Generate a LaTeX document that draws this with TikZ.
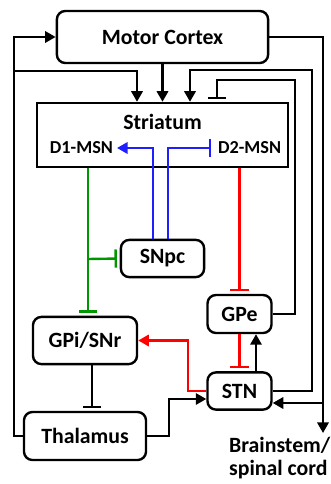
\documentclass[tikz,border=0pt]{standalone}
\usepackage{fontspec}
\setmainfont{Carlito}
\usetikzlibrary{arrows.meta}

\definecolor{dgreen}{RGB}{0,150,0}
\definecolor{dblue}{RGB}{30,30,255}
\definecolor{dred}{RGB}{255,0,0}

\begin{document}
\begin{tikzpicture}[x=0.025cm, y=-0.025cm, line width=1.7pt,
    area/.style={draw, rounded corners=6pt, font=\fontsize{15.5}{17}\selectfont\bfseries, inner sep=0pt},
    label/.style={font=\fontsize{13}{15}\selectfont\bfseries, inner sep=2pt},
    exc/.style={-{Triangle[length=7.5pt, width=8pt]}},
    inh/.style={-{Bar[width=13pt]}, shorten >=2pt},
    path/.style={line width=1.7pt}]
\useasboundingbox (0,0) rectangle (330,484);
%nuclei
\node[area, minimum width=5.28cm, minimum height=1.3cm] (mc) at (162.5,37) {Motor Cortex};
\node[area, rounded corners=0pt, minimum width=6.28cm, minimum height=1.6cm] (str) at (162.5,135) {};
\node[font=\fontsize{15.5}{17}\selectfont\bfseries] (strlbl) at (162.5,122) {Striatum};
\node[label, anchor=east] (d1) at (117,148) {D1-MSN};
\node[label, anchor=west] (d2) at (214,148) {D2-MSN};
\node[area, minimum width=2.08cm, minimum height=0.93cm] (snpc) at (162.5,258.5) {SNpc};
\node[area, minimum width=1.6cm, minimum height=0.95cm] (gpe) at (239.5,314) {GPe};
\node[area, minimum width=2.6cm, minimum height=1.18cm] (gpi) at (85,340.5) {GPi/SNr};
\node[area, minimum width=1.6cm, minimum height=0.93cm] (stn) at (239.5,391) {STN};
\node[area, minimum width=3.05cm, minimum height=1.2cm] (thal) at (85,436) {Thalamus};
\node[area, draw=none, anchor=north west, align=left, font=\fontsize{15.5}{16.5}\selectfont\bfseries] (bs) at (228,436) {Brainstem/\\spinal cord};
%cortex loop
\draw[exc] (thal.west) -- (14,436) |- (mc.west);
\draw[exc] (14,71) -| (str.north -| 137,0);
\draw[exc] (mc.south) -- (str.north);
\coordinate (bsin) at (323,433);
\draw[exc] (mc.east) -| (bsin);
\coordinate (hyper) at (323,403);
\draw[exc] (hyper) -- (stn.east |- hyper);
%back to striatum
\draw[exc] (stn.east) -| (312,70) -| (str.north -| 190,0);
\draw[inh] (gpe.east) -| (295,80) -| (str.north -| 217,0);
%dopamine
\draw[path, dblue, exc] (snpc.north -| 153,0) |- (d1.east);
\draw[path, dblue, inh] (snpc.north -| 168,0) |- (d2.west);
%direct
\coordinate (dsplit) at (88,259);
\draw[path, dgreen, inh] (str.south -| dsplit) -- (gpi.north -| dsplit);
\draw[path, dgreen, inh] (dsplit) -- (snpc.west);
%indirect
\draw[path, dred, inh] (str.south -| gpe.north) -- (gpe.north);
\draw[path, dred, inh] (gpe.south) -- (stn.north);
\draw[exc] (stn.north -| 256,0) -- (gpe.south -| 256,0);
\draw[path, dred, exc] (stn.west) -| (188,0 |- gpi.east) -- (gpi.east);
%thalamus
\draw[inh] (gpi.south -| 92,0) -- (thal.north -| 92,0);
\coordinate (thin) at (169,399);
\draw[exc] (thal.east) -| (thin) -- (stn.west |- thin);
\end{tikzpicture}
\end{document}
